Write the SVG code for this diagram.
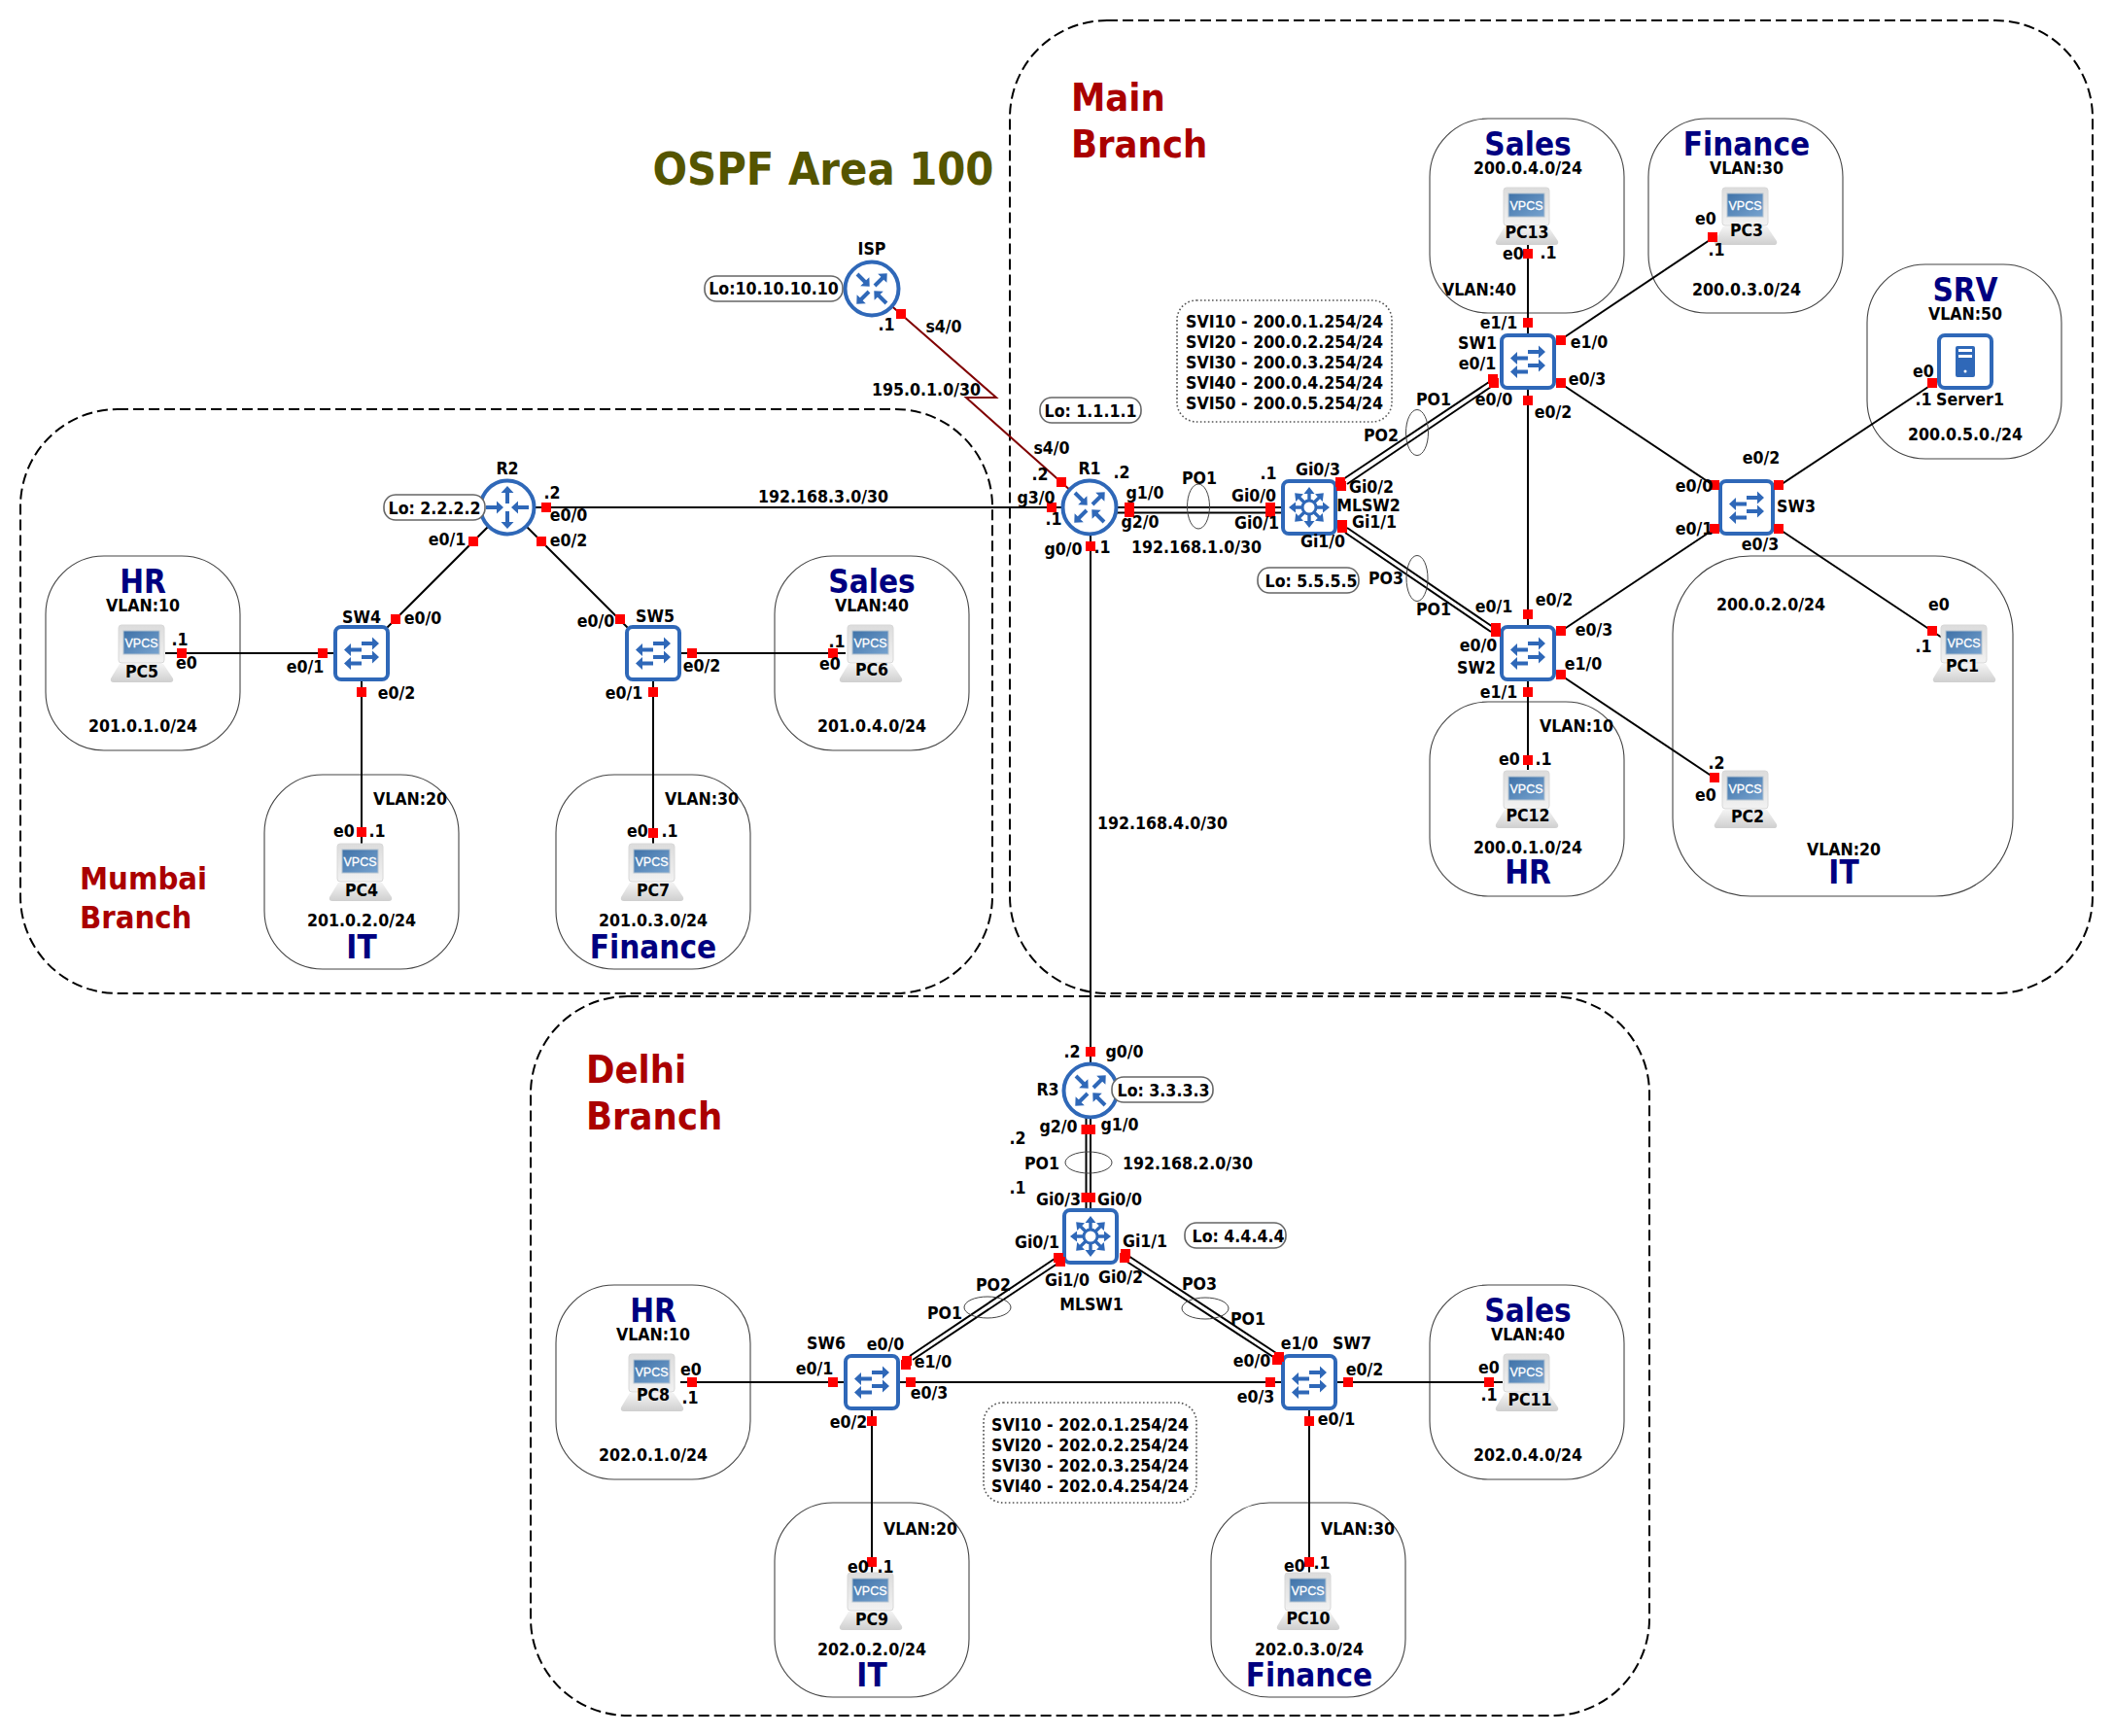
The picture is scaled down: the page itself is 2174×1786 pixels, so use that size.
<svg xmlns="http://www.w3.org/2000/svg" width="2174" height="1786" viewBox="0 0 2174 1786">
<style>
text{font-family:"DejaVu Sans Condensed","DejaVu Sans",Verdana,sans-serif;font-weight:700;fill:#000}
.t{font-size:17.6px;text-anchor:middle}
.l{font-size:17.6px;text-anchor:start}
.b{font-size:33px;text-anchor:middle;fill:#000080}
.r{font-size:39.5px;fill:#aa0000}
.m{font-size:32.5px;fill:#aa0000}
.o{font-size:46.5px;fill:#555500;text-anchor:middle}
.area{fill:none;stroke:#000;stroke-width:2;stroke-dasharray:11 5}
.vl{fill:none;stroke:#444;stroke-width:1.1}
.w{stroke:#000;stroke-width:2;fill:none}
.s{stroke:#800000;stroke-width:2;fill:none}
.p{fill:#f00}
.e{fill:none;stroke:#444;stroke-width:1}
.lo{fill:#fff;stroke:#666;stroke-width:1.6}
.n{fill:#fff;stroke:#555;stroke-width:1.6;stroke-dasharray:1.6 2.4}
.ring{fill:#fff;stroke:#2f68b8;stroke-width:4}
.blue{fill:#2f68b8}
</style>
<defs>
<linearGradient id="gm" x1="0" y1="0" x2="0" y2="1"><stop offset="0" stop-color="#dcdcdc"/><stop offset="1" stop-color="#f2f2f2"/></linearGradient>
<linearGradient id="gb" x1="0" y1="0" x2="0" y2="1"><stop offset="0" stop-color="#f4f4f4"/><stop offset="1" stop-color="#cfcfcf"/></linearGradient>
<linearGradient id="gs" x1="0" y1="0" x2="1" y2="1"><stop offset="0" stop-color="#3f72a8"/><stop offset="1" stop-color="#77a3cf"/></linearGradient>
<path id="a" class="blue" d="M0,-2H11V-6.5L18,0L11,6.5V2H0Z"/>
<path id="a2" class="blue" d="M0,-1.7H8V-5.5L15,0L8,5.5V1.7H0Z"/>
<g id="router">
<circle r="27.5" class="ring"/>
<use href="#a" transform="translate(-15,-15) rotate(45)"/>
<use href="#a" transform="translate(3,-3) rotate(-45)"/>
<use href="#a" transform="translate(-3,3) rotate(135)"/>
<use href="#a" transform="translate(15,15) rotate(-135)"/>
</g>
<g id="router2">
<circle r="27.5" class="ring"/>
<use href="#a" transform="translate(0,-4) rotate(-90)"/>
<use href="#a" transform="translate(0,4) rotate(90)"/>
<use href="#a" transform="translate(-22,0)"/>
<use href="#a" transform="translate(22,0) rotate(180)"/>
</g>
<g id="switch">
<rect x="-27" y="-27" width="54" height="54" rx="6" class="ring"/>
<use href="#a" transform="translate(0,-10)"/>
<use href="#a" transform="translate(0,-3.5) rotate(180)"/>
<use href="#a" transform="translate(0,4)"/>
<use href="#a" transform="translate(0,10.5) rotate(180)"/>
</g>
<g id="mls">
<rect x="-27" y="-27" width="54" height="54" rx="6" class="ring"/>
<use href="#a2" transform="rotate(0) translate(6,0)"/>
<use href="#a2" transform="rotate(45) translate(6,0)"/>
<use href="#a2" transform="rotate(90) translate(6,0)"/>
<use href="#a2" transform="rotate(135) translate(6,0)"/>
<use href="#a2" transform="rotate(180) translate(6,0)"/>
<use href="#a2" transform="rotate(225) translate(6,0)"/>
<use href="#a2" transform="rotate(270) translate(6,0)"/>
<use href="#a2" transform="rotate(315) translate(6,0)"/>
<circle r="7" fill="#fff" stroke="#2f68b8" stroke-width="3"/>
</g>
<g id="pc">
<path d="M-24,11H21L31,26Q32,30 28,30H-30Q-34,30 -33,26Z" fill="url(#gb)"/>
<rect x="-25" y="-29" width="47" height="39" rx="3" fill="url(#gm)" stroke="#d8d8d8"/>
<rect x="-20" y="-23" width="37" height="24" fill="url(#gs)" stroke="#b5c3d0"/>
<text x="-1.5" y="-6" style="font-family:'Liberation Sans',Arial,sans-serif;font-size:12.5px;fill:#fff;text-anchor:middle;font-weight:400;stroke:#fff;stroke-width:.3">VPCS</text>
</g>
<g id="server">
<rect x="-27" y="-27" width="54" height="54" rx="6" class="ring"/>
<rect x="-10" y="-16" width="20" height="32" rx="2" class="blue"/>
<rect x="-7" y="-13" width="14" height="3" fill="#fff"/>
<rect x="-7" y="-7" width="14" height="3" fill="#fff"/>
<circle cx="0" cy="10" r="1.5" fill="#fff"/>
</g>
</defs>

<g id="areas">
<rect id="area-main" class="area" x="1039" y="21" width="1114" height="1001" rx="100"/>
<rect id="area-mumbai" class="area" x="21" y="421" width="1000" height="601" rx="100"/>
<rect id="area-delhi" class="area" x="546" y="1025" width="1151" height="740" rx="100"/>
<rect class="vl" x="1471" y="122" width="200" height="200" rx="60"/>
<rect class="vl" x="1696" y="122" width="200" height="200" rx="60"/>
<rect class="vl" x="1921" y="272" width="200" height="200" rx="60"/>
<rect class="vl" x="1471" y="722" width="200" height="200" rx="60"/>
<rect class="vl" x="1721" y="572" width="350" height="350" rx="80"/>
<rect class="vl" x="47" y="572" width="200" height="200" rx="60"/>
<rect class="vl" x="797" y="572" width="200" height="200" rx="60"/>
<rect class="vl" x="272" y="797" width="200" height="200" rx="60"/>
<rect class="vl" x="572" y="797" width="200" height="200" rx="60"/>
<rect class="vl" x="572" y="1322" width="200" height="200" rx="60"/>
<rect class="vl" x="1471" y="1322" width="200" height="200" rx="60"/>
<rect class="vl" x="797" y="1546" width="200" height="200" rx="60"/>
<rect class="vl" x="1246" y="1546" width="200" height="200" rx="60"/>
</g>

<g id="connectors">
<path class="s" d="M897,297L1025,409H994L1121,522"/>
<path class="w" d="M522,522H1121"/>
<path class="w" d="M1121,522H1347M1121,527.5H1347"/>
<path class="w" d="M1122,522V1122"/>
<path class="w" d="M1382,493L1532,393M1386,498L1534,398"/>
<path class="w" d="M1386,543L1536,645M1384,548L1534,650"/>
<path class="w" d="M1572,252V672"/>
<path class="w" d="M1572,372L1762,245"/>
<path class="w" d="M1572,372L1797,522L2022,672"/>
<path class="w" d="M1572,672L1797,522L1990,394"/>
<path class="w" d="M1572,672V792"/>
<path class="w" d="M1572,672L1768,803"/>
<path class="w" d="M522,522L372,672"/>
<path class="w" d="M522,522L672,672"/>
<path class="w" d="M170,672H372"/>
<path class="w" d="M372,672V868"/>
<path class="w" d="M672,672H870"/>
<path class="w" d="M672,672V868"/>
<path class="w" d="M1117.5,1122V1272M1122,1122V1272"/>
<path class="w" d="M936,1395L1088,1293M939,1399L1091,1298"/>
<path class="w" d="M1161,1292L1313,1392M1158,1297L1310,1396"/>
<path class="w" d="M897,1422H1347"/>
<path class="w" d="M700,1422H897"/>
<path class="w" d="M1347,1422H1546"/>
<path class="w" d="M897,1422V1618"/>
<path class="w" d="M1347,1422V1618"/>
<g id="po-rings">
<ellipse class="e" cx="1233" cy="521" rx="11.5" ry="23"/>
<ellipse class="e" cx="1458" cy="445" rx="11.5" ry="23.5"/>
<ellipse class="e" cx="1458" cy="595" rx="11" ry="23.5"/>
<ellipse class="e" cx="1120" cy="1196" rx="24" ry="11"/>
<ellipse class="e" cx="1016" cy="1345" rx="24" ry="11"/>
<ellipse class="e" cx="1240" cy="1346" rx="24" ry="11"/>
</g>
</g>

<g id="nodes">
<g id="ISP"><use href="#router" x="897" y="297"/><text class="t" x="897" y="262">ISP</text></g>
<g id="R1"><use href="#router" x="1121" y="522"/><text class="t" x="1121" y="488">R1</text></g>
<g id="R2"><use href="#router2" x="522" y="522"/><text class="t" x="522" y="488">R2</text></g>
<g id="R3"><use href="#router" x="1122" y="1122"/><text class="t" x="1078" y="1127">R3</text></g>
<g id="MLSW2"><use href="#mls" x="1347" y="522"/><text class="t" x="1408" y="526">MLSW2</text></g>
<g id="MLSW1"><use href="#mls" x="1122" y="1272"/><text class="t" x="1123" y="1348">MLSW1</text></g>
<g id="SW1"><use href="#switch" x="1572" y="372"/><text class="t" x="1520" y="359">SW1</text></g>
<g id="SW2"><use href="#switch" x="1572" y="672"/><text class="t" x="1519" y="693">SW2</text></g>
<g id="SW3"><use href="#switch" x="1797" y="522"/><text class="t" x="1848" y="527">SW3</text></g>
<g id="SW4"><use href="#switch" x="372" y="672"/><text class="t" x="372" y="641">SW4</text></g>
<g id="SW5"><use href="#switch" x="672" y="672"/><text class="t" x="674" y="640">SW5</text></g>
<g id="SW6"><use href="#switch" x="897" y="1422"/><text class="t" x="850" y="1388">SW6</text></g>
<g id="SW7"><use href="#switch" x="1347" y="1422"/><text class="t" x="1391" y="1388">SW7</text></g>
<g id="Server1"><use href="#server" x="2022" y="372"/><text class="t" x="2027" y="417">Server1</text></g>
<g id="PC1"><use href="#pc" x="2022" y="672"/><text class="t" x="2019" y="691">PC1</text></g>
<g id="PC2"><use href="#pc" x="1797" y="822"/><text class="t" x="1798" y="846">PC2</text></g>
<g id="PC3"><use href="#pc" x="1797" y="222"/><text class="t" x="1797" y="243">PC3</text></g>
<g id="PC4"><use href="#pc" x="372" y="897"/><text class="t" x="372" y="922">PC4</text></g>
<g id="PC5"><use href="#pc" x="147" y="672"/><text class="t" x="146" y="697">PC5</text></g>
<g id="PC6"><use href="#pc" x="897" y="672"/><text class="t" x="897" y="695">PC6</text></g>
<g id="PC7"><use href="#pc" x="672" y="897"/><text class="t" x="672" y="922">PC7</text></g>
<g id="PC8"><use href="#pc" x="672" y="1422"/><text class="t" x="672" y="1441">PC8</text></g>
<g id="PC9"><use href="#pc" x="897" y="1647"/><text class="t" x="897" y="1672">PC9</text></g>
<g id="PC10"><use href="#pc" x="1347" y="1647"/><text class="t" x="1346" y="1671">PC10</text></g>
<g id="PC11"><use href="#pc" x="1572" y="1422"/><text class="t" x="1574" y="1446">PC11</text></g>
<g id="PC12"><use href="#pc" x="1572" y="822"/><text class="t" x="1572" y="845">PC12</text></g>
<g id="PC13"><use href="#pc" x="1572" y="222"/><text class="t" x="1571" y="245">PC13</text></g>
</g>

<g id="ports">
<rect class="p" x="922" y="318" width="10" height="10"/>
<rect class="p" x="1087" y="491" width="10" height="10"/>
<rect class="p" x="1077" y="517" width="10" height="10"/>
<rect class="p" x="1157" y="517" width="10" height="10"/>
<rect class="p" x="1157" y="522" width="10" height="10"/>
<rect class="p" x="1302" y="517" width="10" height="10"/>
<rect class="p" x="1302" y="522" width="10" height="10"/>
<rect class="p" x="1117" y="557" width="10" height="10"/>
<rect class="p" x="1374" y="491" width="10" height="10"/>
<rect class="p" x="1375" y="495" width="10" height="10"/>
<rect class="p" x="1376" y="535" width="10" height="10"/>
<rect class="p" x="1376" y="538" width="10" height="10"/>
<rect class="p" x="1531" y="385" width="10" height="10"/>
<rect class="p" x="1532" y="389" width="10" height="10"/>
<rect class="p" x="1534" y="641" width="10" height="10"/>
<rect class="p" x="1534" y="645" width="10" height="10"/>
<rect class="p" x="1567" y="327" width="10" height="10"/>
<rect class="p" x="1601" y="345" width="10" height="10"/>
<rect class="p" x="1601" y="389" width="10" height="10"/>
<rect class="p" x="1567" y="407" width="10" height="10"/>
<rect class="p" x="1567" y="627" width="10" height="10"/>
<rect class="p" x="1601" y="644" width="10" height="10"/>
<rect class="p" x="1601" y="689" width="10" height="10"/>
<rect class="p" x="1567" y="707" width="10" height="10"/>
<rect class="p" x="1825" y="494" width="10" height="10"/>
<rect class="p" x="1759" y="494" width="10" height="10"/>
<rect class="p" x="1759" y="539" width="10" height="10"/>
<rect class="p" x="1825" y="539" width="10" height="10"/>
<rect class="p" x="1757" y="239" width="10" height="10"/>
<rect class="p" x="1567" y="256" width="10" height="10"/>
<rect class="p" x="1983" y="389" width="10" height="10"/>
<rect class="p" x="1983" y="644" width="10" height="10"/>
<rect class="p" x="1759" y="795" width="10" height="10"/>
<rect class="p" x="1567" y="777" width="10" height="10"/>
<rect class="p" x="557" y="517" width="10" height="10"/>
<rect class="p" x="482" y="552" width="10" height="10"/>
<rect class="p" x="552" y="552" width="10" height="10"/>
<rect class="p" x="402" y="632" width="10" height="10"/>
<rect class="p" x="633" y="632" width="10" height="10"/>
<rect class="p" x="327" y="667" width="10" height="10"/>
<rect class="p" x="182" y="667" width="10" height="10"/>
<rect class="p" x="367" y="707" width="10" height="10"/>
<rect class="p" x="367" y="851" width="10" height="10"/>
<rect class="p" x="707" y="667" width="10" height="10"/>
<rect class="p" x="852" y="667" width="10" height="10"/>
<rect class="p" x="667" y="707" width="10" height="10"/>
<rect class="p" x="667" y="852" width="10" height="10"/>
<rect class="p" x="1117" y="1077" width="10" height="10"/>
<rect class="p" x="1112.5" y="1157" width="10" height="10"/>
<rect class="p" x="1117" y="1157" width="10" height="10"/>
<rect class="p" x="1112.5" y="1227" width="10" height="10"/>
<rect class="p" x="1117" y="1227" width="10" height="10"/>
<rect class="p" x="1084" y="1289" width="10" height="10"/>
<rect class="p" x="1086" y="1293" width="10" height="10"/>
<rect class="p" x="1153" y="1285" width="10" height="10"/>
<rect class="p" x="1152" y="1289" width="10" height="10"/>
<rect class="p" x="1311" y="1391" width="10" height="10"/>
<rect class="p" x="1309" y="1394" width="10" height="10"/>
<rect class="p" x="928" y="1395" width="10" height="10"/>
<rect class="p" x="927" y="1399" width="10" height="10"/>
<rect class="p" x="1302" y="1417" width="10" height="10"/>
<rect class="p" x="1382" y="1417" width="10" height="10"/>
<rect class="p" x="1342" y="1457" width="10" height="10"/>
<rect class="p" x="1527" y="1417" width="10" height="10"/>
<rect class="p" x="1342" y="1602" width="10" height="10"/>
<rect class="p" x="932" y="1417" width="10" height="10"/>
<rect class="p" x="852" y="1417" width="10" height="10"/>
<rect class="p" x="892" y="1457" width="10" height="10"/>
<rect class="p" x="892" y="1602" width="10" height="10"/>
<rect class="p" x="707" y="1417" width="10" height="10"/>
</g>

<g id="notes">
<rect class="lo" x="1070" y="409" width="104" height="26" rx="12"/><text class="t" x="1122" y="429">Lo: 1.1.1.1</text>
<rect class="lo" x="1294" y="584" width="104" height="26" rx="12"/><text class="t" x="1349" y="604">Lo: 5.5.5.5</text>
<rect class="lo" x="395" y="509" width="104" height="26" rx="12"/><text class="t" x="447" y="529">Lo: 2.2.2.2</text>
<rect class="lo" x="1144" y="1108" width="104" height="26" rx="12"/><text class="t" x="1197" y="1128">Lo: 3.3.3.3</text>
<rect class="lo" x="1219" y="1258" width="104" height="26" rx="12"/><text class="t" x="1274" y="1278">Lo: 4.4.4.4</text>
<rect class="lo" x="725" y="284" width="142" height="26" rx="12"/><text class="t" x="796" y="303">Lo:10.10.10.10</text>
<rect class="n" x="1211" y="309" width="221" height="125" rx="20"/>
<text class="l" x="1220" y="337">SVI10 - 200.0.1.254/24</text>
<text class="l" x="1220" y="358">SVI20 - 200.0.2.254/24</text>
<text class="l" x="1220" y="379">SVI30 - 200.0.3.254/24</text>
<text class="l" x="1220" y="400">SVI40 - 200.0.4.254/24</text>
<text class="l" x="1220" y="421">SVI50 - 200.0.5.254/24</text>
<rect class="n" x="1012" y="1443" width="219" height="103" rx="20"/>
<text class="l" x="1020" y="1472">SVI10 - 202.0.1.254/24</text>
<text class="l" x="1020" y="1493">SVI20 - 202.0.2.254/24</text>
<text class="l" x="1020" y="1514">SVI30 - 202.0.3.254/24</text>
<text class="l" x="1020" y="1535">SVI40 - 202.0.4.254/24</text>
</g>

<g id="titles">
<text class="o" x="847" y="190">OSPF Area 100</text>
<text class="r" x="1102" y="114">Main</text><text class="r" x="1102" y="162">Branch</text>
<text class="m" x="82" y="915">Mumbai</text><text class="m" x="82" y="955">Branch</text>
<text class="r" x="603" y="1114">Delhi</text><text class="r" x="603" y="1162">Branch</text>
<text class="b" x="1572" y="160">Sales</text>
<text class="b" x="1797" y="160">Finance</text>
<text class="b" x="2022" y="310">SRV</text>
<text class="b" x="1572" y="909">HR</text>
<text class="b" x="1897" y="909">IT</text>
<text class="b" x="147" y="610">HR</text>
<text class="b" x="897" y="610">Sales</text>
<text class="b" x="372" y="986">IT</text>
<text class="b" x="672" y="986">Finance</text>
<text class="b" x="672" y="1360">HR</text>
<text class="b" x="1572" y="1360">Sales</text>
<text class="b" x="897" y="1735">IT</text>
<text class="b" x="1347" y="1735">Finance</text>
</g>

<g id="labels">
<text class="t" x="1572" y="179">200.0.4.0/24</text><text class="t" x="1522" y="304">VLAN:40</text>
<text class="t" x="1797" y="179">VLAN:30</text><text class="t" x="1797" y="304">200.0.3.0/24</text>
<text class="t" x="2022" y="329">VLAN:50</text><text class="t" x="2022" y="453">200.0.5.0./24</text>
<text class="t" x="1822" y="628">200.0.2.0/24</text><text class="t" x="1897" y="880">VLAN:20</text>
<text class="t" x="1622" y="753">VLAN:10</text><text class="t" x="1572" y="878">200.0.1.0/24</text>
<text class="t" x="147" y="629">VLAN:10</text><text class="t" x="147" y="753">201.0.1.0/24</text>
<text class="t" x="422" y="828">VLAN:20</text><text class="t" x="372" y="953">201.0.2.0/24</text>
<text class="t" x="722" y="828">VLAN:30</text><text class="t" x="672" y="953">201.0.3.0/24</text>
<text class="t" x="897" y="629">VLAN:40</text><text class="t" x="897" y="753">201.0.4.0/24</text>
<text class="t" x="672" y="1379">VLAN:10</text><text class="t" x="672" y="1503">202.0.1.0/24</text>
<text class="t" x="1572" y="1379">VLAN:40</text><text class="t" x="1572" y="1503">202.0.4.0/24</text>
<text class="t" x="947" y="1579">VLAN:20</text><text class="t" x="897" y="1703">202.0.2.0/24</text>
<text class="t" x="1397" y="1579">VLAN:30</text><text class="t" x="1347" y="1703">202.0.3.0/24</text>
<text class="t" x="971" y="342">s4/0</text><text class="t" x="912" y="340">.1</text>
<text class="t" x="953" y="407">195.0.1.0/30</text>
<text class="t" x="847" y="517">192.168.3.0/30</text>
<text class="t" x="1196" y="853">192.168.4.0/30</text>
<text class="t" x="1231" y="569">192.168.1.0/30</text>
<text class="t" x="1222" y="1203">192.168.2.0/30</text>
<text class="t" x="1082" y="467">s4/0</text><text class="t" x="1070" y="494">.2</text><text class="t" x="1154" y="492">.2</text>
<text class="t" x="1066" y="518">g3/0</text><text class="t" x="1084" y="540">.1</text><text class="t" x="1178" y="513">g1/0</text>
<text class="t" x="1234" y="498">PO1</text><text class="t" x="1305" y="493">.1</text><text class="t" x="1290" y="516">Gi0/0</text>
<text class="t" x="1356" y="489">Gi0/3</text><text class="t" x="1411" y="507">Gi0/2</text><text class="t" x="1414" y="543">Gi1/1</text>
<text class="t" x="1173" y="543">g2/0</text><text class="t" x="1293" y="544">Gi0/1</text><text class="t" x="1361" y="563">Gi1/0</text>
<text class="t" x="1094" y="571">g0/0</text><text class="t" x="1134" y="569">.1</text>
<text class="t" x="1426" y="601">PO3</text><text class="t" x="1475" y="633">PO1</text>
<text class="t" x="1537" y="630">e0/1</text><text class="t" x="1599" y="623">e0/2</text><text class="t" x="1521" y="670">e0/0</text>
<text class="t" x="1542" y="718">e1/1</text><text class="t" x="1640" y="654">e0/3</text><text class="t" x="1629" y="689">e1/0</text>
<text class="t" x="1421" y="454">PO2</text><text class="t" x="1475" y="417">PO1</text><text class="t" x="1537" y="417">e0/0</text>
<text class="t" x="1520" y="380">e0/1</text><text class="t" x="1542" y="338">e1/1</text>
<text class="t" x="1635" y="358">e1/0</text><text class="t" x="1633" y="396">e0/3</text><text class="t" x="1598" y="430">e0/2</text>
<text class="t" x="1557" y="267">e0</text><text class="t" x="1593" y="266">.1</text>
<text class="t" x="1755" y="231">e0</text><text class="t" x="1766" y="263">.1</text>
<text class="t" x="1979" y="388">e0</text><text class="t" x="1979" y="417">.1</text>
<text class="t" x="1812" y="477">e0/2</text><text class="t" x="1743" y="506">e0/0</text><text class="t" x="1743" y="550">e0/1</text><text class="t" x="1811" y="566">e0/3</text>
<text class="t" x="1995" y="628">e0</text><text class="t" x="1979" y="671">.1</text>
<text class="t" x="1766" y="791">.2</text><text class="t" x="1755" y="824">e0</text>
<text class="t" x="1553" y="787">e0</text><text class="t" x="1588" y="787">.1</text>
<text class="t" x="460" y="561">e0/1</text><text class="t" x="568" y="513">.2</text><text class="t" x="585" y="536">e0/0</text><text class="t" x="585" y="562">e0/2</text>
<text class="t" x="185" y="664">.1</text><text class="t" x="192" y="688">e0</text><text class="t" x="314" y="692">e0/1</text>
<text class="t" x="435" y="642">e0/0</text><text class="t" x="408" y="719">e0/2</text>
<text class="t" x="354" y="861">e0</text><text class="t" x="388" y="861">.1</text>
<text class="t" x="613" y="645">e0/0</text><text class="t" x="722" y="691">e0/2</text><text class="t" x="642" y="719">e0/1</text>
<text class="t" x="861" y="666">.1</text><text class="t" x="854" y="689">e0</text>
<text class="t" x="656" y="861">e0</text><text class="t" x="689" y="861">.1</text>
<text class="t" x="1103" y="1088">.2</text><text class="t" x="1157" y="1088">g0/0</text>
<text class="t" x="1089" y="1165">g2/0</text><text class="t" x="1152" y="1163">g1/0</text><text class="t" x="1047" y="1177">.2</text>
<text class="t" x="1072" y="1203">PO1</text><text class="t" x="1047" y="1228">.1</text>
<text class="t" x="1089" y="1240">Gi0/3</text><text class="t" x="1152" y="1240">Gi0/0</text>
<text class="t" x="1067" y="1284">Gi0/1</text><text class="t" x="1178" y="1283">Gi1/1</text>
<text class="t" x="1098" y="1323">Gi1/0</text><text class="t" x="1153" y="1320">Gi0/2</text>
<text class="t" x="1022" y="1328">PO2</text><text class="t" x="1234" y="1327">PO3</text><text class="t" x="1284" y="1363">PO1</text><text class="t" x="972" y="1357">PO1</text>
<text class="t" x="1337" y="1388">e1/0</text><text class="t" x="1288" y="1406">e0/0</text><text class="t" x="1404" y="1415">e0/2</text><text class="t" x="1292" y="1443">e0/3</text><text class="t" x="1375" y="1466">e0/1</text>
<text class="t" x="911" y="1389">e0/0</text><text class="t" x="960" y="1407">e1/0</text><text class="t" x="838" y="1414">e0/1</text><text class="t" x="956" y="1439">e0/3</text><text class="t" x="873" y="1469">e0/2</text>
<text class="t" x="711" y="1415">e0</text><text class="t" x="710" y="1444">.1</text>
<text class="t" x="1532" y="1413">e0</text><text class="t" x="1532" y="1441">.1</text>
<text class="t" x="883" y="1618">e0</text><text class="t" x="911" y="1618">.1</text>
<text class="t" x="1332" y="1617">e0</text><text class="t" x="1360" y="1614">.1</text>
</g>
</svg>
